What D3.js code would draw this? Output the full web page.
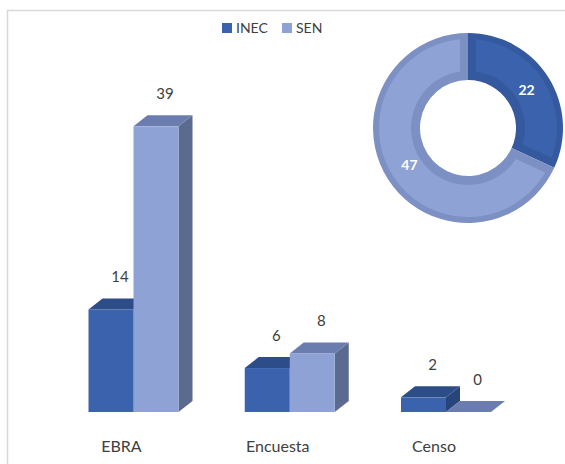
<!DOCTYPE html>
<html>
<head>
<meta charset="utf-8">
<script src="https://cdn.jsdelivr.net/npm/d3@7"></script>
<style>
  body { margin: 0; background: #fff; }
  text { font-family: Lato, "Noto Sans", sans-serif; }
</style>
</head>
<body>
<div id="chart"></div>
<script>
// chart data
var categories = ["EBRA", "Encuesta", "Censo"];
var series = ["INEC", "SEN"];
var inecValues = [14, 6, 2];
var senValues = [39, 8, 0];
var donutValues = [22, 47];

var svgWidth = 565;
var svgHeight = 464;

var colors = {
  INEC: { front: "#3A62AD", top: "#2D4D88", side: "#28457B", band: "#35599F" },
  SEN:  { front: "#8FA2D5", top: "#6A7DAE", side: "#5B6A8F", band: "#7D90C3" }
};

var svg = d3.select("#chart")
  .append("svg")
  .attr("width", svgWidth)
  .attr("height", svgHeight);

// chart frame
svg.append("rect")
  .attr("x", 7.5)
  .attr("y", 10.5)
  .attr("width", 600)
  .attr("height", 500)
  .attr("fill", "none")
  .attr("stroke", "#d9d9d9")
  .attr("stroke-width", 1.5);

// scales
var baseline = 412;
var yScale = d3.scaleLinear().domain([0, 40]).range([baseline, baseline - 293]);
var xScale = d3.scalePoint().domain(categories).range([133.5, 446]);
var xSub = d3.scaleBand().domain(series).range([-45, 45]);

var depthX = 14, depthY = -11;

var rows = [];
categories.forEach(function(c, i) {
  rows.push({ cat: c, s: "INEC", v: inecValues[i] });
  rows.push({ cat: c, s: "SEN", v: senValues[i] });
});

var bars = svg.append("g");

rows.forEach(function(d) {
  var x0 = xScale(d.cat) + xSub(d.s);
  var w = xSub.bandwidth();
  var yTop = yScale(d.v);
  var c = colors[d.s];
  var g = bars.append("g");
  // side face
  g.append("path")
    .attr("d", "M" + (x0 + w) + "," + yTop +
      "L" + (x0 + w + depthX) + "," + (yTop + depthY) +
      "L" + (x0 + w + depthX) + "," + (baseline + depthY) +
      "L" + (x0 + w) + "," + baseline + "Z")
    .attr("fill", c.side);
  // top face
  g.append("path")
    .attr("d", "M" + x0 + "," + yTop +
      "L" + (x0 + depthX) + "," + (yTop + depthY) +
      "L" + (x0 + w + depthX) + "," + (yTop + depthY) +
      "L" + (x0 + w) + "," + yTop + "Z")
    .attr("fill", c.top);
  // front face
  g.append("rect")
    .attr("x", x0)
    .attr("y", yTop)
    .attr("width", w)
    .attr("height", baseline - yTop)
    .attr("fill", c.front);
  // value label
  svg.append("text")
    .attr("x", x0 + w / 2 + 9)
    .attr("y", yTop - 27)
    .attr("text-anchor", "middle")
    .attr("font-size", "15px")
    .attr("fill", "#404040")
    .text(d.v);
});

// category labels
svg.selectAll(".cat")
  .data(categories)
  .enter()
  .append("text")
  .attr("class", "cat")
  .attr("x", d => xScale(d) - 12)
  .attr("y", 452)
  .attr("text-anchor", "middle")
  .attr("font-size", "16px")
  .attr("fill", "#404040")
  .text(d => d);

// legend
var legend = svg.append("g").attr("transform", "translate(222, 23)");
var legendX = [0, 60];
series.forEach(function(s, i) {
  legend.append("rect")
    .attr("x", legendX[i])
    .attr("y", 0)
    .attr("width", 10)
    .attr("height", 10)
    .attr("fill", colors[s].front);
  legend.append("text")
    .attr("x", legendX[i] + 14)
    .attr("y", 10)
    .attr("font-size", "14px")
    .attr("fill", "#404040")
    .text(s);
});

// donut
var donut = svg.append("g").attr("transform", "translate(468, 128)");
var pie = d3.pie().sort(null);
var arcs = pie(donutValues);
var outerArc = d3.arc().innerRadius(48).outerRadius(95);
var innerArc = d3.arc().innerRadius(57).outerRadius(89).padAngle(0.16).padRadius(100);
var labelArc = d3.arc().innerRadius(44).outerRadius(95);

donut.selectAll(".slice")
  .data(arcs)
  .enter()
  .append("path")
  .attr("class", "slice")
  .attr("d", outerArc)
  .attr("fill", (d, i) => colors[series[i]].band);

donut.selectAll(".inset")
  .data(arcs)
  .enter()
  .append("path")
  .attr("class", "inset")
  .attr("d", innerArc)
  .attr("fill", (d, i) => colors[series[i]].front);

donut.selectAll(".dlabel")
  .data(arcs)
  .enter()
  .append("text")
  .attr("class", "dlabel")
  .attr("transform", d => "translate(" + labelArc.centroid(d) + ")")
  .attr("dy", "0.35em")
  .attr("text-anchor", "middle")
  .attr("font-size", "14px")
  .attr("font-weight", "bold")
  .attr("fill", "#fff")
  .text(d => d.data);
</script>
</body>
</html>
